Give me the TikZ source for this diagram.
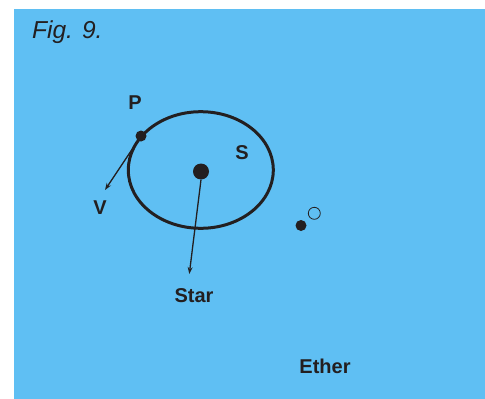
\documentclass[tikz,border=0pt]{standalone}
\usepackage{fontspec}
\setmainfont{Liberation Sans}
\usetikzlibrary{arrows.meta}
\definecolor{skyb}{RGB}{95,191,243}
\definecolor{ink}{RGB}{35,31,32}
\tikzset{
  lbl/.style={font=\fontsize{20}{20}\selectfont\bfseries, text=ink, inner sep=0pt},
  vec/.style={draw=ink, line width=1.3pt, -{Stealth[length=7pt,width=5pt]}},
  dot/.style={circle, fill=ink, inner sep=0pt}
}
\begin{document}
\begin{tikzpicture}[x=1pt,y=-1pt]
\useasboundingbox (0,0) rectangle (485,399);
\fill[white] (0,0) rectangle (485,399);
\fill[skyb] (14,9) rectangle (485,399);
\node[font=\fontsize{24.5}{24.5}\selectfont\itshape, text=ink, inner sep=0pt, anchor=west] (fig) at (32,32) {Fig. 9.};
\draw[ink, line width=3pt] (200.8,170) ellipse [x radius=72.5, y radius=58.3];
\node[dot, minimum size=16pt] (star) at (201,171.5) {};
\node[dot, minimum size=11pt] (p) at (141,136) {};
\coordinate (vend) at (105,190);
\coordinate (send) at (189.3,274);
\draw[vec] (p.center) -- (vend);
\draw[vec] (star.south) -- (send);
\node[lbl] (lp) at (135,103) {P};
\node[lbl] (lv) at (100,208) {V};
\node[lbl] (ls) at (242,153) {S};
\node[lbl] (lstar) at (194,296) {Star};
\node[lbl] (lether) at (325,366) {Ether};
\node[dot, minimum size=11pt] (d1) at (301,225.5) {};
\node[circle, draw=ink, line width=0.8pt, inner sep=0pt, minimum size=12pt] (d2) at (314.3,213.3) {};
\end{tikzpicture}
\end{document}
